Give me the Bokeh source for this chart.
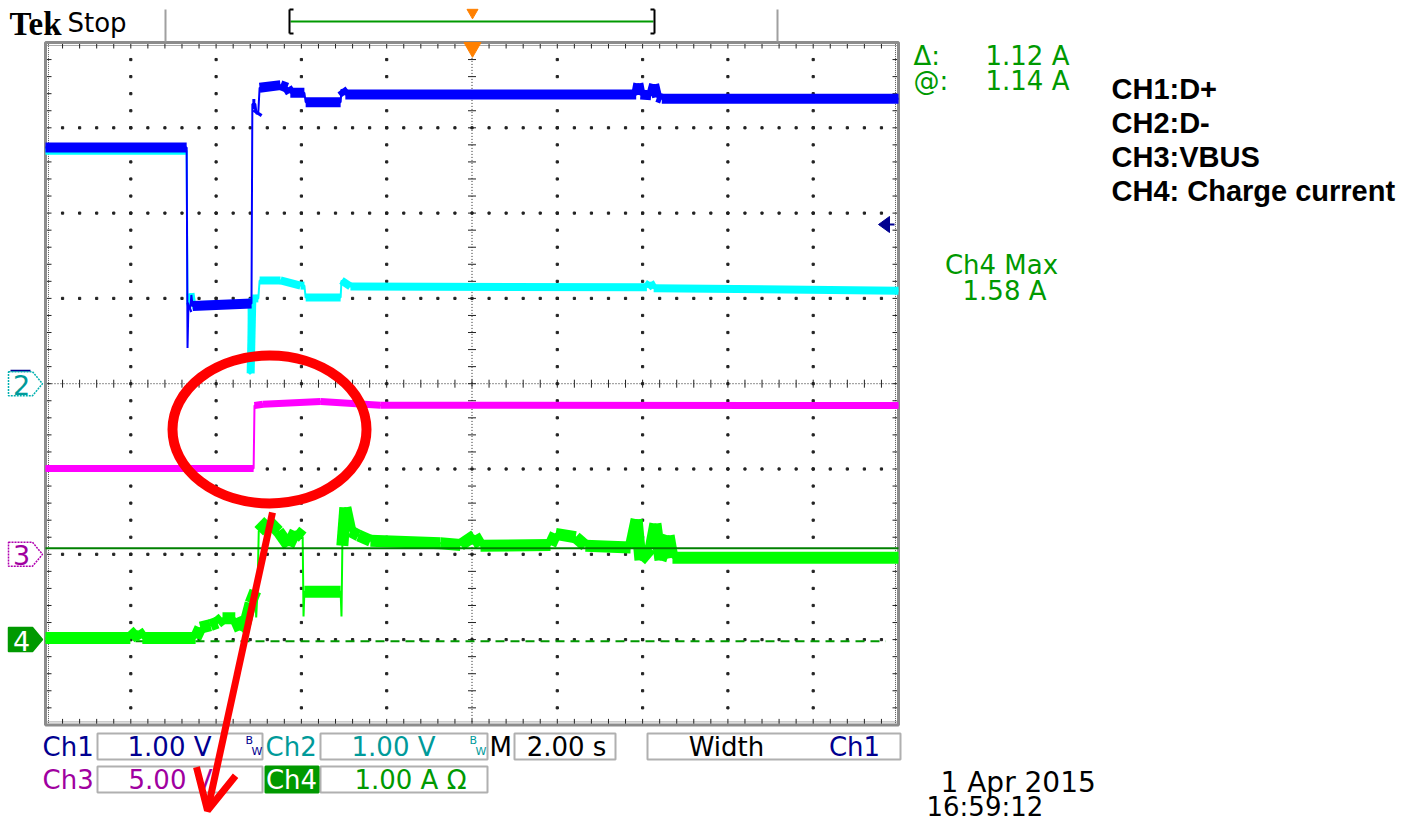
import numpy as np
from bokeh.plotting import figure
from bokeh.models import Range1d, Label, Arrow, OpenHead
from bokeh.embed import file_html
from bokeh.resources import INLINE

# ---------------- data ----------------
SEC_PER_DIV = 2.00
CH_SCALE = {"ch1": 1.00, "ch2": 1.00, "ch3": 5.00, "ch4": 1.00}   # units per division
CH_POS = {"ch1": 0.0, "ch2": 0.0, "ch3": -2.0, "ch4": -3.0}        # ground marker, divisions

# CH1 : D+  (volts)
CH1_T = [-10.00, -6.69, -6.67, -6.65, -6.60, -6.58, -6.55, -5.17, -5.15, -5.08, -5.05, -5.01,
         -4.98, -4.49, -4.33, -4.26, -3.93, -3.90, -3.08, -3.06, -2.97, 3.85, 3.90, 3.95,
         4.20, 4.27, 4.34, 4.45, 10.00]
CH1_V = [2.77, 2.77, 0.42, 0.89, 0.90, 1.04, 0.91, 0.94, 3.28, 3.28, 3.16, 3.19,
         3.47, 3.50, 3.47, 3.41, 3.41, 3.30, 3.30, 3.45, 3.39, 3.39, 3.52, 3.39,
         3.38, 3.51, 3.36, 3.34, 3.34]

# CH2 : D-  (volts)
CH2_T = [-10.00, -6.69, -6.67, -6.62, -6.60, -6.56, -5.24, -5.22, -5.19, -5.15, -5.01, -4.98,
         -4.49, -4.02, -3.93, -3.90, -3.08, -3.06, -2.85, 4.10, 4.18, 4.26, 10.00]
CH2_V = [2.73, 2.73, 0.92, 0.92, 1.06, 0.92, 0.94, 0.12, 0.12, 1.00, 1.00, 1.21,
         1.21, 1.15, 1.15, 1.01, 1.01, 1.21, 1.14, 1.13, 1.19, 1.12, 1.09]

# CH3 : VBUS  (volts)
CH3_T = [-10.00, -5.12, -5.10, -4.90, -3.55, -2.15, 10.00]
CH3_V = [5.03, 5.03, 8.72, 8.80, 8.95, 8.74, 8.72]

# CH4 : charge current  (amps)
CH4_T = [-10.00, -8.01, -7.84, -7.73, -6.48, -6.37, -6.13, -5.97, -5.85, -5.55, -5.43, -5.33,
         -5.19, -5.08, -5.06, -5.03, -5.00, -4.77, -4.54, -4.30, -4.14, -3.97, -3.95, -3.93,
         -3.08, -3.06, -3.04, -2.97, -2.85, -2.66, -2.38, -0.74, -0.27, 0.06, 0.20, 1.84,
         1.96, 2.43, 2.66, 3.72, 3.86, 3.95, 4.19, 4.30, 4.42, 4.61, 4.70, 10.00]
CH4_A = [0.02, 0.02, 0.10, 0.02, 0.02, 0.14, 0.17, 0.20, 0.25, 0.25, 0.11, 0.16,
         0.43, 0.57, 0.26, 0.57, 1.27, 1.39, 1.27, 1.10, 1.27, 1.20, 0.27, 0.56,
         0.56, 0.27, 1.10, 1.55, 1.27, 1.22, 1.16, 1.13, 1.11, 1.22, 1.10, 1.11,
         1.24, 1.20, 1.10, 1.08, 1.41, 0.93, 1.07, 1.36, 0.93, 1.22, 0.96, 0.96]

CURSOR_A = [1.07, -0.02]          # ch4 horizontal cursors (solid, dashed)
READOUT = [("\u0394:", "1.12 A"), ("@:", "1.14 A")]
CH4_MAX = ["Ch4 Max", "1.58 A"]
LEGEND = ["CH1:D+", "CH2:D-", "CH3:VBUS", "CH4: Charge current"]
CH_VOLTS = ["1.00 V", "1.00 V", "5.00 V", "1.00 A \u03a9"]
TIMEBASE = "2.00 s"
MEAS = ["Width", "Ch1"]
DATE = ["1 Apr 2015", "16:59:12"]

# ---------------- layout helpers (reference pixels -> graticule units) ----------------
W, H = 1407, 821
OFF = 0
CX, CY, DIV = 471.5, 383.2, 85.3


def tx(X):
    return (X - CX) / DIV * SEC_PER_DIV


def dy(Y):
    return (CY - Y) / DIV


SCOPE_FONT = "DejaVu Sans"
NAVY, TEAL, MAG, GRN = "#000090", "#009a9a", "#a000a0", "#009900"

p = figure(width=W, height=H, x_range=Range1d(tx(OFF), tx(OFF + W)),
           y_range=Range1d(dy(OFF + H), dy(OFF)), output_backend="svg",
           toolbar_location=None, min_border=0, x_axis_location=None, y_axis_location=None)
p.grid.visible = False
p.outline_line_color = None
p.background_fill_color = "white"
p.border_fill_color = "white"


def label(X, Y, text, color="black", size=26, font=SCOPE_FONT, style="normal", align="left"):
    p.add_layout(Label(x=tx(X), y=dy(Y), text=text, text_color=color, text_font=font,
                       text_font_size=f"{size}px", text_font_style=style, text_align=align,
                       text_baseline="middle"))


def hline(X1, X2, Y, color, width=1, dash="solid"):
    p.line([tx(X1), tx(X2)], [dy(Y), dy(Y)], line_color=color, line_width=width, line_dash=dash)


def vline(X, Y1, Y2, color, width=1):
    p.line([tx(X), tx(X)], [dy(Y1), dy(Y2)], line_color=color, line_width=width)


def box(X1, Y1, X2, Y2, fill="white", line="#b0b0b0"):
    p.quad(left=tx(X1), right=tx(X2), top=dy(Y1), bottom=dy(Y2), fill_color=fill,
           line_color=line, line_width=2)


# ---------------- graticule ----------------
tl, tr = -5 * SEC_PER_DIV, 5 * SEC_PER_DIV
yb, yt = -4.0, 4.0
sx = SEC_PER_DIV / 5.0  # minor spacing in time units
gx, gy = [], []
for k in range(-4, 5):
    if k == 0:
        continue
    for j in range(1, 40):
        gx.append(k * SEC_PER_DIV)
        gy.append(yb + 0.2 * j)
for j in range(-3, 4):
    if j == 0:
        continue
    for i in range(1, 50):
        gx.append(tl + sx * i)
        gy.append(float(j))
p.scatter(gx, gy, marker="square", size=2.2, color="#222222")

# centre cross with ticks
p.line([tl, tr], [0, 0], line_color="#222222", line_width=1, line_dash="1 2")
p.line([0, 0], [yb, yt], line_color="#222222", line_width=1, line_dash="1 2")
tk = 4.0 / DIV
xt = [tl + sx * i for i in range(1, 50)]
p.segment(xt, [-tk] * len(xt), xt, [tk] * len(xt), line_color="#222222", line_width=1)
ytk = [yb + 0.2 * j for j in range(1, 40)]
tkx = tk * SEC_PER_DIV
p.segment([-tkx] * len(ytk), ytk, [tkx] * len(ytk), ytk, line_color="#222222", line_width=1)

# ruler along the border
e = 3.0 / DIV
p.line([tl, tr], [yt - e, yt - e], line_color="#555555", line_width=1, line_dash="1 1")
p.line([tl, tr], [yb + e, yb + e], line_color="#555555", line_width=1, line_dash="1 1")
p.line([tl + e * 2, tl + e * 2], [yb, yt], line_color="#555555", line_width=1, line_dash="1 1")
p.line([tr - e * 2, tr - e * 2], [yb, yt], line_color="#555555", line_width=1, line_dash="1 1")
L = 6.0 / DIV
p.segment(xt, [yt] * len(xt), xt, [yt - L] * len(xt), line_color="#222222")
p.segment(xt, [yb] * len(xt), xt, [yb + L] * len(xt), line_color="#222222")
p.segment([tl] * len(ytk), ytk, [tl + L * SEC_PER_DIV] * len(ytk), ytk, line_color="#222222")
p.segment([tr] * len(ytk), ytk, [tr - L * SEC_PER_DIV] * len(ytk), ytk, line_color="#222222")
p.quad(left=tl, right=tr, top=yt, bottom=yb, fill_color=None, line_color="#8c8c8c", line_width=3)

# ---------------- header ----------------
label(9, 23, "Tek", size=33, font="Liberation Serif", style="bold")
label(67, 22, "Stop", size=26)
vline(165, 9, 41, "#a0a0a0", 2)
vline(777, 9, 41, "#a0a0a0", 2)
hline(290, 653, 21, GRN, 2)
for Xb, d in ((289, 4), (654, -4)):
    vline(Xb, 9, 33, "black", 2)
    hline(Xb, Xb + d, 9, "black", 2)
    hline(Xb, Xb + d, 33, "black", 2)
p.scatter([tx(472)], [dy(12)], marker="inverted_triangle", size=11, color="#ff8000")
p.scatter([tx(472)], [dy(47)], marker="inverted_triangle", size=17, color="#ff8000")

# ---------------- traces ----------------
TRACES = [
    ("ch3", CH3_T, CH3_V, "#ff00ff", 7),
    ("ch4", CH4_T, CH4_A, "#00ff00", 12),
    ("ch2", CH2_T, CH2_V, "#00ffff", 8),
    ("ch1", CH1_T, CH1_V, "#0000ff", 10),
]

# dashed cursor under the traces
cy2 = CURSOR_A[1] / CH_SCALE["ch4"] + CH_POS["ch4"]
p.line([tl, tr - 0.3], [cy2, cy2], line_color="#009900", line_width=2, line_dash="9 6")

for ch, T, V, col, band in TRACES:
    y = [v / CH_SCALE[ch] + CH_POS[ch] for v in V]
    x0, y0, x1, y1 = [], [], [], []
    for i in range(len(T) - 1):
        if T[i + 1] - T[i] > 0.035:
            x0.append(T[i]); y0.append(y[i]); x1.append(T[i + 1]); y1.append(y[i + 1])
    p.segment(x0, y0, x1, y1, line_color=col, line_width=band, line_cap="butt")
    p.line(T, y, line_color=col, line_width=2)

cy1 = CURSOR_A[0] / CH_SCALE["ch4"] + CH_POS["ch4"]
p.line([tl, tr], [cy1, cy1], line_color="#008000", line_width=2)

# ---------------- channel markers ----------------
def marker(ch, fill, edge, txt_col, text, dash):
    yc = CH_POS[ch]
    Yc = CY - yc * DIV
    xs = [tx(8), tx(32), tx(42), tx(32), tx(8)]
    ys = [dy(Yc - 12), dy(Yc - 12), dy(Yc), dy(Yc + 12), dy(Yc + 12)]
    p.patch(xs, ys, fill_color=fill, line_color=edge, line_width=1.5, line_dash=dash)
    label(21, Yc + 1, text, color=txt_col, size=27, align="center")


hline(10, 30, CY - 13, NAVY, 2)
marker("ch2", "white", "#00b0b0", TEAL, "2", "2 1")
marker("ch3", "white", "#b000b0", MAG, "3", "2 1")
marker("ch4", "#009900", "#009900", "white", "4", "solid")

# ch1 offset arrow on the right
p.patch([tx(878), tx(889), tx(889)], [dy(224), dy(216), dy(232)], fill_color=NAVY, line_color=NAVY)
hline(886, 894, 224, NAVY, 2)

# ---------------- readouts ----------------
for i, (a, b) in enumerate(READOUT):
    label(913, 55 + 25 * i, a, color=GRN, size=26)
    label(985, 55 + 25 * i, b, color=GRN, size=26)
label(1001, 264, CH4_MAX[0], color=GRN, size=26, align="center")
label(1004, 290, CH4_MAX[1], color=GRN, size=26, align="center")
for i, t in enumerate(LEGEND):
    label(1111, 88 + 34 * i, t, color="black", size=29, font="Liberation Sans", style="bold")

# ---------------- status bar ----------------
box(97, 733, 262, 759)
box(320, 733, 487, 759)
box(514, 733, 615, 759)
box(647, 733, 900, 759)
box(97, 766, 262, 792)
box(320, 766, 487, 792)
box(265, 766, 318, 792, fill="#009900", line="#009900")
label(42, 746, "Ch1", color=NAVY)
label(169, 746, CH_VOLTS[0], color=NAVY, align="center")
label(245, 740, "B", color=NAVY, size=11)
label(251, 751, "W", color=NAVY, size=11)
label(265, 746, "Ch2", color=TEAL)
label(393, 746, CH_VOLTS[1], color=TEAL, align="center")
label(469, 740, "B", color=TEAL, size=11)
label(475, 751, "W", color=TEAL, size=11)
label(489, 746, "M", color="black")
label(566, 746, TIMEBASE, color="black", align="center")
label(726, 746, MEAS[0], color="black", align="center")
label(854, 746, MEAS[1], color=NAVY, align="center")
label(42, 779, "Ch3", color=MAG)
label(170, 779, CH_VOLTS[2], color=MAG, align="center")
label(291, 779, "Ch4", color="white", align="center")
label(410, 779, CH_VOLTS[3], color=GRN, align="center")
label(940, 782, DATE[0], color="black", size=28)
label(926, 806, DATE[1], color="black", size=26)

# ---------------- red annotation ----------------
p.ellipse(x=[tx(269)], y=[dy(429)], width=194 / DIV * SEC_PER_DIV, height=148 / DIV,
          fill_color=None, line_color="#ff0000", line_width=10)
p.add_layout(Arrow(end=OpenHead(size=40, line_color="#ff0000", line_width=7),
                   x_start=tx(272), y_start=dy(512), x_end=tx(207), y_end=dy(810),
                   line_color="#ff0000", line_width=7))

open("out.html", "w").write(file_html(p, INLINE))
